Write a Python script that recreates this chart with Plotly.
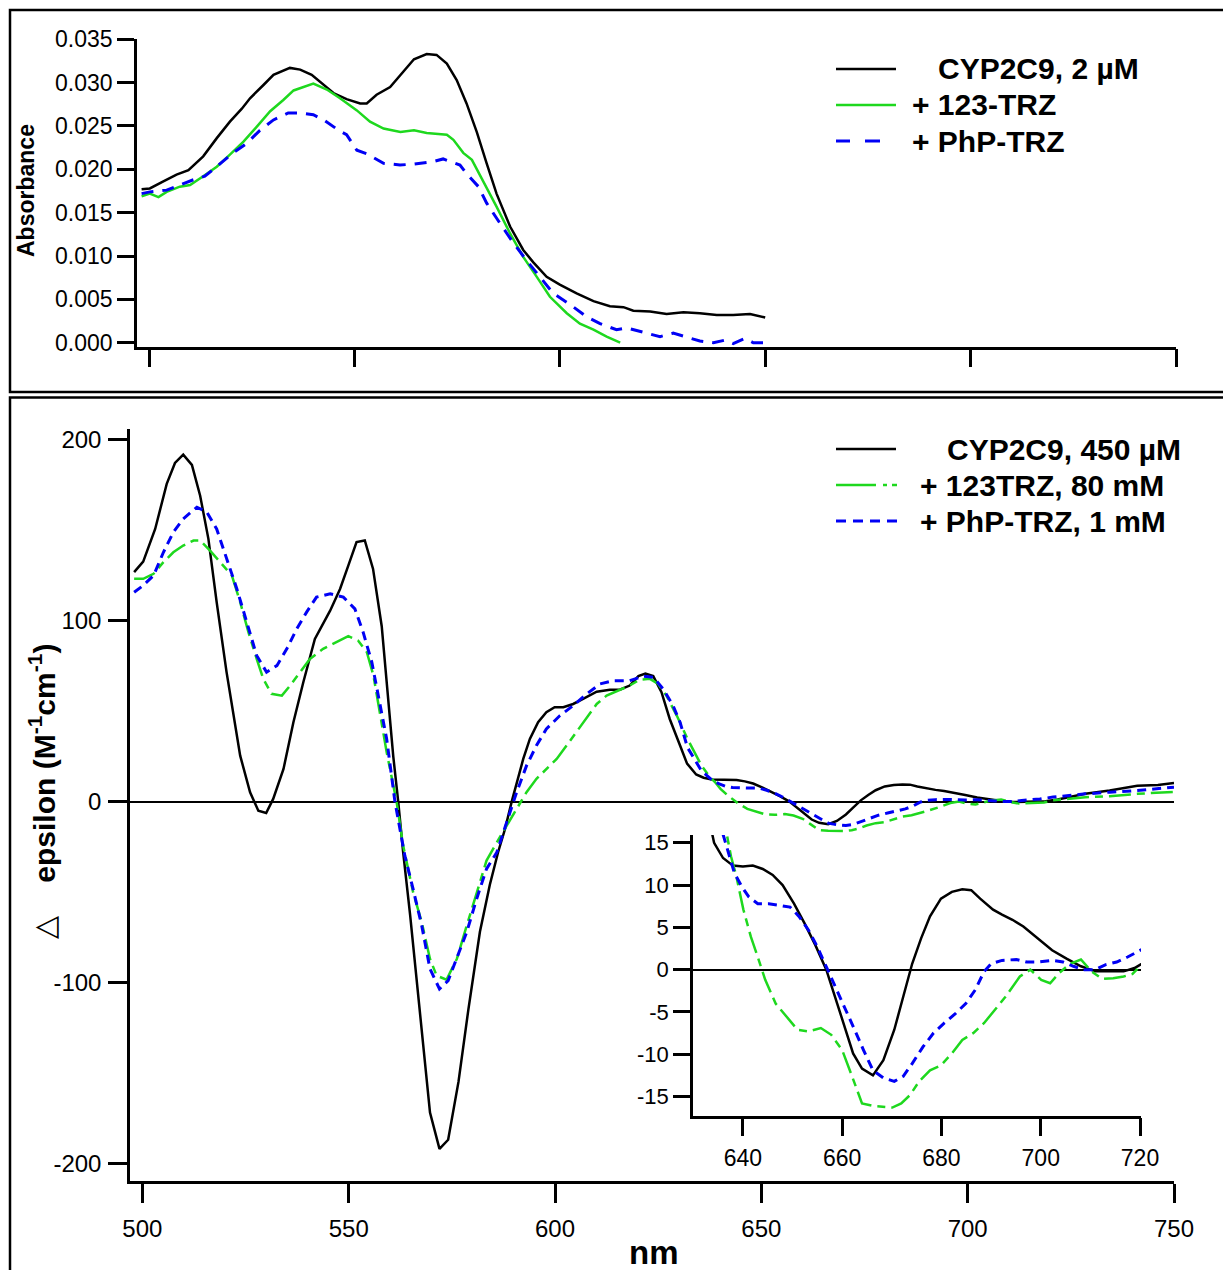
import plotly.graph_objects as go

W, H = 1223, 1270
FONT = "Liberation Sans, Arial, Helvetica, sans-serif"

# ---------------- data: top panel (absorbance) ----------------
top_black_nm = [498.2, 500.2, 503.5, 506.7, 509.6, 513.2, 516.5, 519.7, 522.6, 524.6,
                527.8, 530.3, 534.3, 536.8, 539.6, 542.5, 544.9, 548.1, 551.4, 553.0,
                555.4, 558.7, 561.5, 564.5, 567.6, 570.0, 572.5, 574.9, 577.3, 579.8,
                582.2, 584.6, 587.9, 591.1, 593.5, 596.8, 600.0, 604.1, 608.2, 612.2,
                615.5, 617.9, 622.0, 626.0, 630.1, 634.1, 638.2, 642.2, 646.3, 650.0]
top_black = [0.0177, 0.0178, 0.0186, 0.0194, 0.0199, 0.0215, 0.0236, 0.0255, 0.0270, 0.0282,
             0.0297, 0.0309, 0.0317, 0.0315, 0.0309, 0.0297, 0.0288, 0.0281, 0.0276, 0.0276,
             0.0286, 0.0295, 0.0311, 0.0327, 0.0333, 0.0332, 0.0322, 0.0303, 0.0276, 0.0243,
             0.0207, 0.0172, 0.0134, 0.0107, 0.0093, 0.0076, 0.0067, 0.0057, 0.0048, 0.0042,
             0.0041, 0.0037, 0.0036, 0.0033, 0.0035, 0.0034, 0.0032, 0.0032, 0.0033, 0.0029]

top_green_nm = [498.2, 500.2, 502.3, 504.3, 507.5, 510.0, 513.2, 516.5, 519.7, 523.0,
                526.2, 529.5, 532.7, 535.2, 540.0, 543.3, 546.5, 550.6, 553.8, 557.1,
                561.2, 564.5, 567.6, 572.5, 574.1, 576.5, 578.6, 581.4, 584.6, 587.9,
                591.1, 594.4, 597.6, 601.7, 604.9, 608.2, 611.4, 614.7]
top_green = [0.0169, 0.0172, 0.0168, 0.0174, 0.0180, 0.0182, 0.0192, 0.0203, 0.0217, 0.0232,
             0.0249, 0.0267, 0.0280, 0.0291, 0.0299, 0.0292, 0.0282, 0.0268, 0.0255, 0.0247,
             0.0243, 0.0245, 0.0242, 0.0240, 0.0234, 0.0219, 0.0211, 0.0186, 0.0157, 0.0126,
             0.0099, 0.0076, 0.0053, 0.0034, 0.0022, 0.0015, 0.0007, 0.0000]

top_blue_nm = [498.2, 500.2, 504.3, 507.5, 510.8, 513.6, 517.3, 520.5, 523.8, 527.0,
               530.3, 533.9, 536.8, 540.0, 542.5, 546.5, 548.1, 550.6, 553.0, 557.1,
               561.1, 564.3, 569.2, 571.6, 575.7, 577.3, 580.2, 582.2, 585.4, 588.7,
               591.9, 595.2, 598.4, 602.5, 606.5, 609.8, 613.8, 616.3, 621.2, 624.4,
               627.6, 630.9, 634.1, 637.4, 640.2, 642.2, 645.1, 647.1, 649.5]
top_blue = [0.0172, 0.0174, 0.0176, 0.0182, 0.0188, 0.0192, 0.0207, 0.0219, 0.0230, 0.0245,
            0.0257, 0.0265, 0.0265, 0.0263, 0.0257, 0.0244, 0.0240, 0.0222, 0.0218, 0.0207,
            0.0205, 0.0206, 0.0209, 0.0212, 0.0205, 0.0195, 0.0180, 0.0161, 0.0138, 0.0115,
            0.0095, 0.0076, 0.0057, 0.0044, 0.0030, 0.0022, 0.0015, 0.0017, 0.0011, 0.0007,
            0.0011, 0.0006, 0.0002, 0.0000, 0.0003, -0.0001, 0.0005, 0.0000, 0.0000]

top_names = ["CYP2C9, 2 µM", "+ 123-TRZ", "+ PhP-TRZ"]

# ---------------- data: bottom panel (delta epsilon) ----------------
cd_black_nm = [498.0, 500.2, 503.1, 505.9, 507.9, 509.9, 512.0, 514.0, 516.0, 518.0,
               520.4, 523.7, 526.1, 528.1, 530.0, 531.7, 534.2, 536.6, 539.0, 541.8,
               545.5, 547.9, 549.9, 551.9, 553.9, 555.9, 558.0, 559.6, 560.8, 562.0,
               563.2, 564.9, 566.5, 568.1, 569.7, 572.0, 574.1, 576.6, 579.0, 581.8,
               584.2, 586.2, 587.9, 589.5, 590.7, 592.3, 593.9, 595.9, 597.9, 599.9,
               602.0, 604.4, 606.8, 610.1, 613.3, 615.7, 618.1, 620.2, 621.9, 623.8,
               625.8, 627.8, 630.3, 632.0, 634.2, 636.0, 638.0, 640.0, 642.0, 644.0,
               646.0, 648.0, 650.3, 652.4, 654.6, 656.8, 659.0, 660.4, 662.2, 664.0,
               666.2, 668.3, 670.5, 672.3, 674.1, 675.9, 677.7, 679.9, 682.1, 684.2,
               686.0, 687.8, 690.4, 692.2, 694.3, 696.5, 699.4, 702.3, 705.2, 708.1,
               711.0, 713.8, 716.7, 718.9, 721.8, 728.5, 734.4, 741.1, 746.1, 750.0]
cd_black = [126.9, 132.7, 150.8, 175.7, 187.3, 191.9, 186.2, 169.2, 145.3, 110.3,
            71.6, 25.4, 5.2, -5.0, -6.3, 1.5, 18.1, 43.9, 66.0, 90.0,
            105.6, 117.6, 130.5, 143.5, 144.4, 128.7, 97.0, 55.0, 25.0, 0.0,
            -28.0, -63.0, -100.0, -137.0, -172.0, -192.0, -187.0, -155.0, -115.0, -72.0,
            -46.0, -28.0, -15.0, 0.0, 10.7, 23.6, 34.7, 43.9, 49.4, 52.2,
            52.2, 54.0, 56.8, 60.8, 61.9, 61.9, 64.2, 69.4, 70.8, 69.4,
            60.5, 45.7, 31.0, 21.0, 15.0, 13.2, 12.3, 12.2, 12.3, 11.9,
            11.2, 10.0, 7.8, 5.5, 2.9, 0.0, -4.0, -6.7, -9.9, -11.7,
            -12.5, -10.7, -7.1, -3.2, 0.7, 3.7, 6.3, 8.4, 9.2, 9.5,
            9.4, 8.4, 7.1, 6.5, 5.9, 5.1, 3.7, 2.3, 1.3, 0.4,
            -0.2, -0.2, -0.2, 0.2, 1.2, 4.3, 6.1, 8.8, 9.2, 10.3]

cd_green_nm = [498.0, 500.2, 502.7, 505.1, 507.5, 509.9, 512.4, 514.0, 516.4, 519.2,
               521.7, 523.7, 525.7, 527.7, 529.3, 531.3, 533.8, 535.8, 538.2, 540.6,
               543.8, 547.1, 549.9, 552.3, 554.4, 556.0, 557.6, 559.2, 561.6, 563.2,
               565.6, 567.7, 569.7, 571.3, 573.7, 576.2, 578.6, 581.0, 583.4, 585.9,
               588.3, 590.7, 593.1, 595.5, 597.9, 600.4, 602.8, 605.2, 607.7, 610.1,
               612.5, 615.7, 618.1, 620.6, 623.0, 625.0, 627.0, 629.5, 632.1, 635.5,
               637.6, 638.7, 640.1, 641.6, 643.0, 644.5, 646.6, 648.8, 651.0, 653.2,
               655.7, 657.8, 660.0, 661.8, 664.0, 666.2, 669.0, 670.1, 671.9, 673.7,
               675.5, 677.7, 679.9, 682.1, 684.2, 686.4, 688.6, 690.7, 692.9, 695.8,
               697.9, 700.1, 701.9, 703.7, 705.9, 708.1, 710.2, 712.4, 714.6, 716.7,
               718.5, 720.7, 728.5, 734.4, 741.1, 750.0]
cd_green = [123.2, 123.2, 126.0, 132.4, 137.9, 141.6, 144.4, 144.4, 138.8, 131.5,
            125.0, 110.3, 93.7, 78.9, 67.9, 59.6, 58.6, 64.2, 71.6, 78.9,
            84.5, 88.2, 91.5, 89.0, 82.6, 69.7, 48.0, 27.3, 0.0, -24.3,
            -50.1, -66.7, -87.0, -96.2, -98.5, -87.0, -68.6, -50.1, -32.6, -22.5,
            -13.3, -4.0, 5.2, 12.6, 18.1, 23.6, 31.0, 38.4, 46.7, 54.0,
            58.6, 61.9, 64.2, 67.5, 67.9, 65.1, 58.6, 47.6, 34.7, 19.9,
            13.4, 11.0, 7.1, 3.9, 1.5, -1.2, -4.0, -5.6, -7.1, -7.3,
            -6.9, -7.7, -9.5, -12.3, -15.8, -16.1, -16.2, -16.3, -15.8, -14.8,
            -13.2, -11.9, -11.3, -9.9, -8.3, -7.5, -6.3, -4.8, -3.2, -0.8,
            0.0, -1.2, -1.6, -0.4, 0.7, 1.2, -0.2, -1.1, -1.0, -0.8,
            -0.5, 0.8, 2.4, 3.0, 4.3, 5.4]

cd_blue_nm = [498.0, 500.2, 502.7, 505.1, 507.5, 509.9, 513.2, 515.6, 518.0, 520.4,
              522.9, 525.3, 527.7, 530.1, 532.6, 535.0, 537.4, 539.8, 542.2, 545.5,
              548.7, 551.5, 553.5, 555.6, 557.6, 559.2, 561.2, 563.6, 565.6, 567.7,
              569.7, 572.0, 574.1, 576.2, 578.6, 581.0, 583.4, 585.9, 587.5, 589.1,
              590.7, 593.1, 595.5, 597.9, 601.2, 604.4, 607.7, 610.9, 614.1, 618.1,
              621.4, 623.8, 626.2, 628.6, 630.3, 632.1, 635.5, 637.3, 638.3, 639.8,
              641.2, 643.0, 645.2, 647.4, 649.5, 651.3, 653.2, 655.0, 656.8, 658.6,
              660.4, 662.2, 664.3, 666.2, 668.3, 670.5, 672.3, 674.1, 676.3, 678.4,
              680.6, 682.8, 684.9, 686.8, 688.6, 690.0, 692.2, 695.1, 697.2, 699.4,
              702.3, 704.5, 706.6, 708.8, 711.0, 713.1, 715.3, 717.5, 720.7, 728.5,
              734.4, 741.1, 750.0]
cd_blue = [115.8, 119.5, 125.0, 137.9, 149.0, 156.4, 162.8, 160.1, 150.8, 134.2,
           117.6, 99.2, 80.8, 71.6, 75.2, 84.5, 95.5, 104.8, 113.1, 114.9,
           113.1, 106.6, 93.7, 77.1, 53.1, 34.7, 0.0, -29.9, -48.3, -68.6,
           -92.5, -103.6, -99.0, -87.0, -72.2, -53.8, -37.2, -28.0, -16.9, -5.9,
           5.2, 19.9, 31.0, 40.2, 47.6, 53.1, 59.6, 65.1, 66.9, 66.9,
           69.4, 68.8, 62.3, 53.1, 43.9, 29.9, 17.0, 13.4, 11.4, 9.8,
           8.6, 7.8, 7.8, 7.6, 7.4, 6.3, 4.7, 2.7, 0.4, -2.0,
           -4.4, -6.7, -9.5, -11.9, -12.8, -13.2, -12.6, -11.1, -9.1, -7.5,
           -6.3, -5.2, -4.0, -2.4, -0.2, 0.7, 1.1, 1.2, 0.9, 0.9,
           1.1, 0.9, 0.4, 0.0, 0.0, 0.6, 0.9, 1.5, 2.5, 4.3,
           5.2, 6.1, 8.0]

cd_names = ["CYP2C9, 450 µM", "+ 123TRZ, 80 mM", "+ PhP-TRZ, 1 mM"]

top_xticks = [500, 550, 600, 650, 700, 750]
top_yticks = [0.0, 0.005, 0.010, 0.015, 0.020, 0.025, 0.030, 0.035]
top_yticktext = ["0.000", "0.005", "0.010", "0.015", "0.020", "0.025", "0.030", "0.035"]
cd_xticks = [500, 550, 600, 650, 700, 750]
cd_yticks = [-200, -100, 0, 100, 200]
cd_yticktext = ["-200", "-100", "0", "100", "200"]
inset_xticks = [640, 660, 680, 700, 720]
inset_yticks = [-15, -10, -5, 0, 5, 10, 15]
inset_yticktext = ["-15", "-10", "-5", "0", "5", "10", "15"]

BLACK = "#000000"
GREEN = "#1ed81e"
BLUE = "#0000f5"


def fx(p):
    return p / W


def fy(p):
    return 1 - p / H


fig = go.Figure()

# top panel
fig.add_trace(go.Scatter(x=top_black_nm, y=top_black, mode="lines", name=top_names[0],
                         line=dict(color=BLACK, width=2.5), xaxis="x", yaxis="y"))
fig.add_trace(go.Scatter(x=top_green_nm, y=top_green, mode="lines", name=top_names[1],
                         line=dict(color=GREEN, width=2.5), xaxis="x", yaxis="y"))
fig.add_trace(go.Scatter(x=top_blue_nm, y=top_blue, mode="lines", name=top_names[2],
                         line=dict(color=BLUE, width=3, dash="12px,9px"), xaxis="x", yaxis="y"))

# bottom main + inset
for xa, ya in (("x2", "y2"), ("x3", "y3")):
    fig.add_trace(go.Scatter(x=cd_black_nm, y=cd_black, mode="lines", name=cd_names[0],
                             line=dict(color=BLACK, width=2.5), xaxis=xa, yaxis=ya))
    fig.add_trace(go.Scatter(x=cd_green_nm, y=cd_green, mode="lines", name=cd_names[1],
                             line=dict(color=GREEN, width=2.5, dash="22px,6px,8px,6px"),
                             xaxis=xa, yaxis=ya))
    fig.add_trace(go.Scatter(x=cd_blue_nm, y=cd_blue, mode="lines", name=cd_names[2],
                             line=dict(color=BLUE, width=3, dash="9px,6px"), xaxis=xa, yaxis=ya))


def ax(**kw):
    d = dict(showline=True, linecolor="black", linewidth=2.5, ticks="outside",
             tickcolor="black", tickwidth=2.5, showgrid=False, zeroline=False,
             automargin=False, fixedrange=True)
    d.update(kw)
    return d


fig.update_layout(
    width=W, height=H,
    margin=dict(l=0, r=0, t=0, b=0),
    paper_bgcolor="white", plot_bgcolor="rgba(0,0,0,0)",
    showlegend=False,
    font=dict(family=FONT, color="black"),
    xaxis=ax(domain=[fx(137), fx(1176)], anchor="y", range=[497.08, 750],
             tickvals=top_xticks, showticklabels=False, ticklen=18),
    yaxis=ax(domain=[fy(346.7), fy(39.3)], anchor="x", range=[-0.00046, 0.035],
             tickvals=top_yticks, ticktext=top_yticktext, ticklen=17,
             tickfont=dict(family=FONT, size=23, color="black")),
    xaxis2=ax(domain=[fx(130), fx(1174)], anchor="y2", range=[497.0, 750],
              tickvals=cd_xticks, ticklen=19, ticklabelstandoff=5,
              tickfont=dict(family=FONT, size=24, color="black")),
    yaxis2=ax(domain=[fy(1181), fy(429.3)], anchor="x2", range=[-209.8, 205.9],
              tickvals=cd_yticks, ticktext=cd_yticktext, ticklen=19, ticklabelstandoff=2,
              zeroline=True, zerolinecolor="black", zerolinewidth=2,
              tickfont=dict(family=FONT, size=24, color="black")),
    xaxis3=ax(domain=[fx(693), fx(1141)], anchor="y3", range=[629.95, 720.2],
              tickvals=inset_xticks, ticklen=18, ticklabelstandoff=2,
              tickfont=dict(family=FONT, size=23, color="black")),
    yaxis3=ax(domain=[fy(1115.7), fy(835)], anchor="x3", range=[-17.26, 15.92],
              tickvals=inset_yticks, ticktext=inset_yticktext, ticklen=17,
              zeroline=True, zerolinecolor="black", zerolinewidth=2,
              tickfont=dict(family=FONT, size=22, color="black")),
)

shapes = [
    dict(type="rect", xref="paper", yref="paper", x0=fx(10), x1=fx(1240),
         y0=fy(392), y1=fy(10), line=dict(color="black", width=2.5), layer="above"),
    dict(type="rect", xref="paper", yref="paper", x0=fx(10), x1=fx(1240),
         y0=fy(1300), y1=fy(397.5), line=dict(color="black", width=2.5), layer="above"),
]


def seg(x0, x1, y, color, width=2.5):
    return dict(type="line", xref="paper", yref="paper", x0=fx(x0), x1=fx(x1),
                y0=fy(y), y1=fy(y), line=dict(color=color, width=width))


# top legend samples
shapes += [seg(836, 896, 69, BLACK), seg(836, 896, 105, GREEN),
           seg(836, 850, 141, BLUE, 3), seg(865, 880, 141, BLUE, 3)]
# bottom legend samples
shapes += [seg(836, 896, 449, BLACK),
           seg(836, 876, 485, GREEN), seg(883, 887, 485, GREEN), seg(892, 897, 485, GREEN),
           seg(836, 846, 521, BLUE, 3), seg(853, 863, 521, BLUE, 3),
           seg(870, 880, 521, BLUE, 3), seg(887, 897, 521, BLUE, 3)]

annotations = []


def label(text, x, y, size, xanchor="left", angle=0):
    annotations.append(dict(text=text, x=fx(x), y=fy(y), xref="paper", yref="paper",
                            xanchor=xanchor, yanchor="middle", showarrow=False,
                            textangle=angle, font=dict(family=FONT, size=size, color="black")))


label("<b>%s</b>" % top_names[0], 936, 69, 30)
label("<b>%s</b>" % top_names[1], 910, 105, 30)
label("<b>%s</b>" % top_names[2], 910, 141, 30)
label("<b>%s</b>" % cd_names[0], 945, 449, 30)
label("<b>%s</b>" % cd_names[1], 918, 485, 30)
label("<b>%s</b>" % cd_names[2], 918, 521, 30)

label("<b>Absorbance</b>", 26, 191, 23, xanchor="center", angle=-90)
label("△\u00a0\u00a0\u00a0\u00a0<b>epsilon (M<sup>-1</sup>cm<sup>-1</sup>)</b>", 42, 792, 30,
      xanchor="center", angle=-90)
label("<b>nm</b>", 654, 1252, 33, xanchor="center")

fig.update_layout(shapes=shapes, annotations=annotations)

fig.write_html("out.html")
